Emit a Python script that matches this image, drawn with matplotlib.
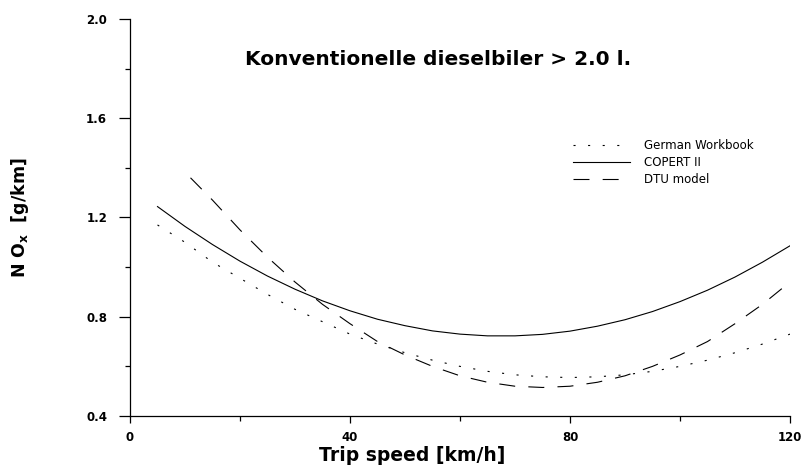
import numpy as np
from matplotlib import pyplot as plt

plt.rcParams['font.family'] = ['DejaVu Sans']
plt.rcParams['lines.scale_dashes'] = False

# trip speeds [km/h] and NOx emission factors [g/km]
speed = [5, 10, 15, 20, 25, 30, 35, 40, 45, 50, 55, 60,
         65, 70, 75, 80, 85, 90, 95, 100, 105, 110, 115, 120]
german_wb = [1.17, 1.10, 1.02, 0.955, 0.89, 0.83, 0.78, 0.73, 0.69, 0.655, 0.625, 0.60,
             0.58, 0.566, 0.558, 0.555, 0.558, 0.566, 0.58, 0.60, 0.625, 0.655, 0.69, 0.73]
copert2 = [1.244, 1.164, 1.091, 1.024, 0.964, 0.911, 0.864, 0.824, 0.790, 0.764, 0.743, 0.730,
           0.723, 0.723, 0.729, 0.742, 0.762, 0.788, 0.821, 0.861, 0.907, 0.960, 1.020, 1.086]

dtu_speed = [11, 15, 20, 25, 30, 35, 40, 45, 50, 55, 60,
             65, 70, 75, 80, 85, 90, 95, 100, 105, 110, 115, 120]
dtu_model = [1.36, 1.27, 1.15, 1.04, 0.94, 0.85, 0.772, 0.70, 0.646, 0.60, 0.562,
             0.536, 0.52, 0.515, 0.52, 0.536, 0.562, 0.60, 0.646, 0.70, 0.772, 0.85, 0.94]

xticks = [0, 40, 80, 120]
yticks = [0.4, 0.8, 1.2, 1.6, 2.0]

fig = plt.figure(figsize=(8.09, 4.69), dpi=100)
ax = fig.add_axes([0.1607, 0.113, 0.8158, 0.8465])

ax.plot(speed, german_wb, color='black', lw=0.8, linestyle=(0, (1.5, 9)),
        label='German Workbook')
ax.plot(speed, copert2, color='black', lw=0.8, label='COPERT II')
ax.plot(dtu_speed, dtu_model, color='black', lw=0.8, linestyle=(0, (11.5, 9.5)),
        label='DTU model')

ax.set_xlim(0, 120)
ax.set_ylim(0.4, 2.0)
ax.spines['top'].set_visible(False)
ax.spines['right'].set_visible(False)
for s in ('left', 'bottom'):
    ax.spines[s].set_linewidth(0.9)

ax.set_xticks(xticks)
ax.set_xticklabels([str(v) for v in xticks])
ax.set_xticks([20, 60, 100], minor=True)
ax.set_yticks(yticks)
ax.set_yticklabels(['%.1f' % v for v in yticks])
ax.set_yticks([0.6, 1.0, 1.4, 1.8], minor=True)

ax.tick_params(axis='y', which='major', length=8, width=0.9, pad=8.5)
ax.tick_params(axis='y', which='minor', length=3.5, width=0.9)
ax.tick_params(axis='x', which='major', length=5, width=0.9, pad=6)
ax.tick_params(axis='x', which='minor', length=3.5, width=0.9)
for lbl in ax.get_xticklabels() + ax.get_yticklabels():
    lbl.set_fontweight('bold')
    lbl.set_fontsize(8.5)

ax.set_xlabel('Trip speed [km/h]', fontsize=13.5, fontweight='bold')
ax.xaxis.set_label_coords(0.427, -0.075)
ax.set_ylabel('N O$_\\mathbf{x}$  [g/km]', fontsize=12.5, fontweight='bold')
ax.yaxis.set_label_coords(-0.15, 0.5)

ax.text(56, 1.835, 'Konventionelle dieselbiler > 2.0 l.', fontsize=14.5,
        fontweight='bold', ha='center', va='center')

ax.legend(loc='upper left', bbox_to_anchor=(0.655, 0.725), frameon=False,
          fontsize=8.5, handlelength=4.8, handletextpad=1.2, labelspacing=0.35)

fig.savefig('out.png', dpi=100)
